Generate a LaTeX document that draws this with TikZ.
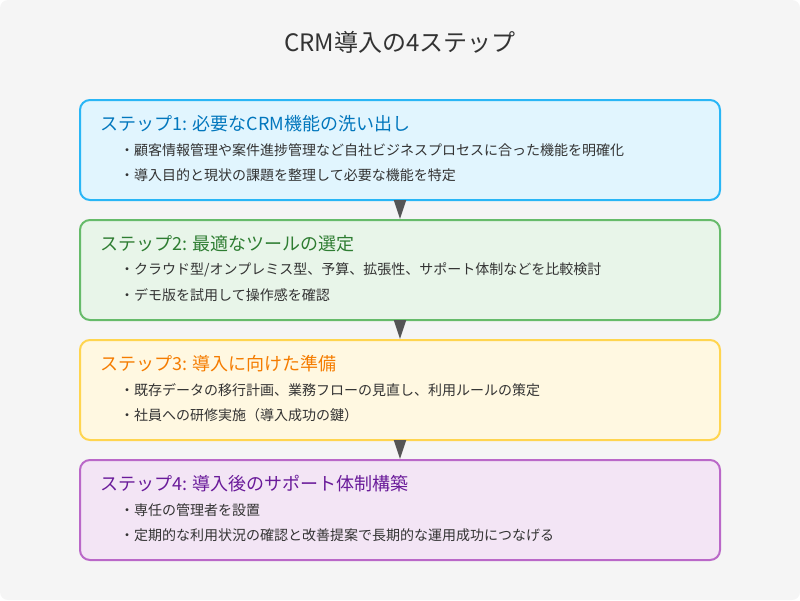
\documentclass[tikz,border=0pt]{standalone}
\usepackage{fontspec}
\setmainfont{Noto Sans CJK JP}
\usepackage{tikz}
\usetikzlibrary{positioning}
\usetikzlibrary{arrows.meta}
\definecolor{bgcol}{HTML}{F5F5F5}
\definecolor{textcol}{HTML}{333333}
\definecolor{arrowcol}{HTML}{555555}
\definecolor{blueline}{HTML}{29B6F6}
\definecolor{bluefill}{HTML}{E1F5FE}
\definecolor{bluetext}{HTML}{0277BD}
\definecolor{greenline}{HTML}{66BB6A}
\definecolor{greenfill}{HTML}{E8F5E9}
\definecolor{greentext}{HTML}{2E7D32}
\definecolor{yellowline}{HTML}{FFD54F}
\definecolor{yellowfill}{HTML}{FFF8E1}
\definecolor{orangetext}{HTML}{F57C00}
\definecolor{purpleline}{HTML}{BA68C8}
\definecolor{purplefill}{HTML}{F3E5F5}
\definecolor{purpletext}{HTML}{6A1B9A}

\begin{document}
\begin{tikzpicture}[x=1pt, y=-1pt,
            stepbox/.style={draw, line width=2pt, rounded corners=10pt, minimum width=640pt, minimum height=100pt, inner sep=0pt},
            steptitle/.style={anchor=west, inner sep=0pt, font=\fontsize{18}{21}\selectfont},
            item/.style={anchor=west, inner sep=0pt, text=textcol, font=\fontsize{14}{16}\selectfont},
            flow/.style={-{Triangle[width=12pt, length=19pt]}, draw=arrowcol, fill=arrowcol, line width=2pt}
        ]
        \fill[bgcol, rounded corners=8pt] (0,0) rectangle (800,600);
        \useasboundingbox (0,0) rectangle (800,600);
        \node[text=textcol, font=\fontsize{24}{28}\selectfont] (title) at (400,42) {CRM導入の4ステップ};

        \node[stepbox, draw=blueline, fill=bluefill] (step1) at (400,150) {};
        \node[steptitle, text=bluetext] (head1) at (100,124) {ステップ1: 必要なCRM機能の洗い出し};
        \node[item] (item1a) at (120,150) {・顧客情報管理や案件進捗管理など自社ビジネスプロセスに合った機能を明確化};
        \node[item] (item1b) at (120,175) {・導入目的と現状の課題を整理して必要な機能を特定};

        \node[stepbox, draw=greenline, fill=greenfill] (step2) at (400,270) {};
        \node[steptitle, text=greentext] (head2) at (100,244) {ステップ2: 最適なツールの選定};
        \node[item] (item2a) at (120,270) {・クラウド型/オンプレミス型、予算、拡張性、サポート体制などを比較検討};
        \node[item] (item2b) at (120,295) {・デモ版を試用して操作感を確認};

        \node[stepbox, draw=yellowline, fill=yellowfill] (step3) at (400,390) {};
        \node[steptitle, text=orangetext] (head3) at (100,364) {ステップ3: 導入に向けた準備};
        \node[item] (item3a) at (120,390) {・既存データの移行計画、業務フローの見直し、利用ルールの策定};
        \node[item] (item3b) at (120,415) {・社員への研修実施（導入成功の鍵）};

        \node[stepbox, draw=purpleline, fill=purplefill] (step4) at (400,510) {};
        \node[steptitle, text=purpletext] (head4) at (100,484) {ステップ4: 導入後のサポート体制構築};
        \node[item] (item4a) at (120,510) {・専任の管理者を設置};
        \node[item] (item4b) at (120,535) {・定期的な利用状況の確認と改善提案で長期的な運用成功につなげる};

        \draw[flow] (step1.south) -- (step2.north);
        \draw[flow] (step2.south) -- (step3.north);
        \draw[flow] (step3.south) -- (step4.north);
\end{tikzpicture}
\end{document}
